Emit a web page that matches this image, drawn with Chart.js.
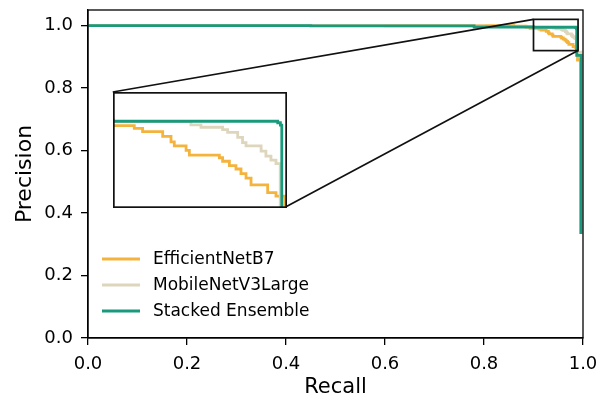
<!DOCTYPE html>
<html><head><meta charset="utf-8">
<script src="https://cdn.jsdelivr.net/npm/chart.js@4.4.1/dist/chart.umd.min.js"></script>
<style>
html,body{margin:0;padding:0;background:#fff;}
#wrap{position:relative;width:611px;height:398px;overflow:hidden;}
#main{position:absolute;left:0;top:0;}
#inset{position:absolute;left:0;top:0;}
</style></head><body>
<div id="wrap"><canvas id="main" width="611" height="398"></canvas><canvas id="inset" width="10" height="10"></canvas></div>
<script>
// ---- data ----
const seriesNames = ["EfficientNetB7", "MobileNetV3Large", "Stacked Ensemble"];
const seriesColors = ["#F4B33C", "#DDD5BC", "#1A9A7C"];

const effRecall    = [0, 0.86, 0.885, 0.893, 0.911, 0.9153, 0.9257, 0.930, 0.9317, 0.9378, 0.9395, 0.955, 0.9567, 0.9602, 0.9636, 0.9662, 0.9688, 0.9714, 0.980, 0.9843, 0.9889, 0.995];
const effPrecision = [1.0, 0.998, 0.995, 0.991, 0.9887, 0.9858, 0.9817, 0.977, 0.9735, 0.9697, 0.9656, 0.9633, 0.9603, 0.9566, 0.9536, 0.9496, 0.9457, 0.940, 0.9332, 0.9302, 0.890, 0.333];

const mobRecall    = [0, 0.60, 0.80, 0.90, 0.9403, 0.9455, 0.9567, 0.9593, 0.9645, 0.967, 0.9688, 0.9766, 0.9791, 0.9817, 0.9843, 0.9865, 0.9955];
const mobPrecision = [1.0, 0.999, 0.9965, 0.9945, 0.9917, 0.9896, 0.9875, 0.9852, 0.9808, 0.9764, 0.9735, 0.9691, 0.9647, 0.9612, 0.9583, 0.915, 0.333];

const stackRecall    = [0, 0.45, 0.78, 0.90, 0.9852, 0.9866, 0.9873, 0.996];
const stackPrecision = [1.0, 0.999, 0.9955, 0.9948, 0.9935, 0.9915, 0.905, 0.333];

const xTicks = [0, 0.2, 0.4, 0.6, 0.8, 1.0];
const yTicks = [0, 0.2, 0.4, 0.6, 0.8, 1.0];
const xRange = [0, 1];
const yRange = [0, 1.05];
const zoomX = [0.90, 0.99];
const zoomY = [0.92, 1.02];
const insetFrac = [0.05, 0.40, 0.35, 0.35]; // axes fraction: x0, y0, w, h

// ---- build ----
const FONT = "'DejaVu Sans', sans-serif";
Chart.defaults.font.family = FONT;
Chart.defaults.color = '#000';

const recallArrays = [effRecall, mobRecall, stackRecall];
const precisionArrays = [effPrecision, mobPrecision, stackPrecision];
function makeDatasets() {
  return seriesNames.map((name, i) => ({
    label: name,
    data: recallArrays[i].map((r, k) => ({x: r, y: precisionArrays[i][k]})),
    borderColor: seriesColors[i],
    backgroundColor: seriesColors[i],
    borderWidth: 2.8,
    pointRadius: 0,
    stepped: 'before',
    fill: false,
    order: seriesNames.length - 1 - i,
    borderJoinStyle: 'miter',
    borderCapStyle: 'butt'
  }));
}

const framePlugin = {
  id: 'frame',
  afterDatasetsDraw(chart) {
    const {ctx, chartArea: a, scales: {x, y}} = chart;
    ctx.save();
    ctx.strokeStyle = '#000';
    ctx.lineWidth = 1.3;
    ctx.strokeRect(a.left, a.top, a.right - a.left, a.bottom - a.top);
    // zoom box
    const bx0 = x.getPixelForValue(zoomX[0]), bx1 = x.getPixelForValue(zoomX[1]);
    const by0 = y.getPixelForValue(zoomY[0]), by1 = y.getPixelForValue(zoomY[1]);
    ctx.lineWidth = 1.7;
    ctx.strokeStyle = '#111';
    ctx.strokeRect(bx0, by1, bx1 - bx0, by0 - by1);
    // connectors to inset
    const fx = v => a.left + v * (a.right - a.left);
    const fy = v => a.bottom - v * (a.bottom - a.top);
    const ix0 = fx(insetFrac[0]), ix1 = fx(insetFrac[0] + insetFrac[2]);
    const iy0 = fy(insetFrac[1]), iy1 = fy(insetFrac[1] + insetFrac[3]);
    ctx.beginPath();
    ctx.moveTo(ix0, iy1); ctx.lineTo(bx0, by1);
    ctx.moveTo(ix1, iy0); ctx.lineTo(bx1, by0);
    ctx.stroke();
    ctx.restore();
  },
  afterDraw(chart) {
    const {ctx, chartArea: a} = chart;
    ctx.save();
    ctx.font = "17px " + FONT;
    ctx.textBaseline = 'middle';
    ctx.textAlign = 'left';
    chart.data.datasets.forEach((ds, i) => {
      const yy = a.bottom - 79 + i * 26;
      ctx.strokeStyle = ds.borderColor;
      ctx.lineWidth = 2.8;
      ctx.beginPath();
      ctx.moveTo(a.left + 14, yy); ctx.lineTo(a.left + 52, yy);
      ctx.stroke();
      ctx.fillStyle = '#000';
      ctx.fillText(ds.label, a.left + 65, yy + 1);
    });
    ctx.restore();
  }
};

const mainChart = new Chart(document.getElementById('main'), {
  type: 'line',
  data: {datasets: makeDatasets()},
  options: {
    responsive: false,
    animation: false,
    devicePixelRatio: 1,
    layout: {padding: {top: 10, right: 28, left: 0, bottom: 0}},
    plugins: {legend: {display: false}, tooltip: {enabled: false}},
    scales: {
      x: {
        type: 'linear', min: xRange[0], max: xRange[1],
        afterBuildTicks: s => { s.ticks = xTicks.map(v => ({value: v})); },
        afterFit: s => { s.height = 60; s.paddingLeft = 0; s.paddingRight = 0; },
        ticks: {font: {size: 18}, padding: 9, maxRotation: 0, autoSkip: false, callback: v => Number(v).toFixed(1), color: '#000'},
        grid: {drawOnChartArea: false, tickLength: 7, color: '#000', lineWidth: 1.3},
        border: {color: '#000', width: 1.3},
        title: {display: true, text: 'Recall', font: {size: 21, lineHeight: 1}, padding: {top: 0, bottom: 0}, color: '#000'}
      },
      y: {
        type: 'linear', min: yRange[0], max: yRange[1],
        afterBuildTicks: s => { s.ticks = yTicks.map(v => ({value: v})); },
        afterFit: s => { s.width = 88; s.paddingTop = 0; s.paddingBottom = 0; },
        ticks: {font: {size: 18}, padding: 8, autoSkip: false, callback: v => Number(v).toFixed(1), color: '#000'},
        grid: {drawOnChartArea: false, tickLength: 7, color: '#000', lineWidth: 1.3},
        border: {color: '#000', width: 1.3},
        title: {display: true, text: 'Precision', font: {size: 22, lineHeight: 1}, padding: {top: 14, bottom: 0}, color: '#000'}
      }
    }
  },
  plugins: [framePlugin]
});

// ---- inset ----
const a = mainChart.chartArea;
const fx = v => a.left + v * (a.right - a.left);
const fy = v => a.bottom - v * (a.bottom - a.top);
const insL = Math.round(fx(insetFrac[0]));
const insR = Math.round(fx(insetFrac[0] + insetFrac[2]));
const insT = Math.round(fy(insetFrac[1] + insetFrac[3]));
const insB = Math.round(fy(insetFrac[1]));
const insetCanvas = document.getElementById('inset');
insetCanvas.width = insR - insL + 1;
insetCanvas.height = insB - insT + 1;
insetCanvas.style.left = insL + 'px';
insetCanvas.style.top = insT + 'px';

const insetFrame = {
  id: 'insetFrame',
  beforeDraw(chart) {
    const {ctx, width, height} = chart;
    ctx.save(); ctx.fillStyle = '#fff'; ctx.fillRect(0, 0, width, height); ctx.restore();
  },
  afterDraw(chart) {
    const {ctx, width, height} = chart;
    ctx.save();
    ctx.strokeStyle = '#111';
    ctx.lineWidth = 1.7;
    ctx.strokeRect(0.85, 0.85, width - 1.7, height - 1.7);
    ctx.restore();
  }
};

new Chart(insetCanvas, {
  type: 'line',
  data: {datasets: makeDatasets()},
  options: {
    responsive: false,
    animation: false,
    devicePixelRatio: 1,
    layout: {padding: 0},
    plugins: {legend: {display: false}, tooltip: {enabled: false}},
    scales: {
      x: {type: 'linear', min: zoomX[0], max: zoomX[1], display: false},
      y: {type: 'linear', min: zoomY[0], max: zoomY[1], display: false}
    }
  },
  plugins: [insetFrame]
});
</script>
</body></html>
